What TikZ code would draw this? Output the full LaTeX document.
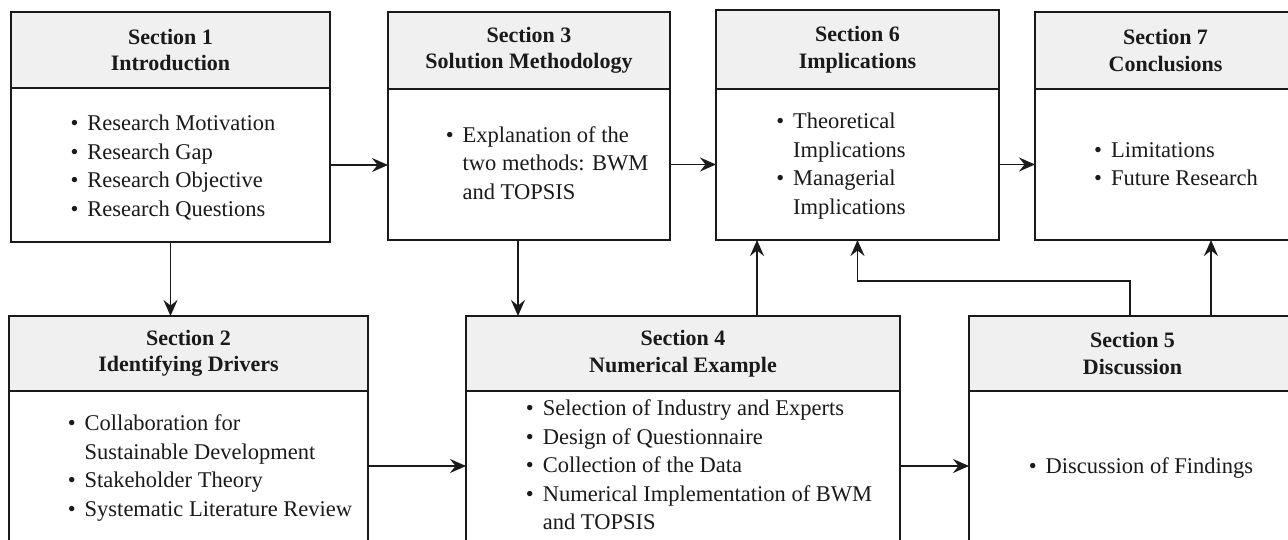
\documentclass[tikz,border=0pt]{standalone}
\usepackage{fontspec}
\setmainfont{Liberation Serif}
\usetikzlibrary{arrows.meta,calc}
\definecolor{hdrgray}{HTML}{F0F0F0}
\definecolor{ink}{HTML}{1A1A1A}
\tikzset{
  box/.style={draw=ink, line width=1.8pt, inner sep=0pt, outer sep=0pt, anchor=north west},
  hdr/.style={box, fill=hdrgray, font=\bfseries\fontsize{22}{26.5}\selectfont, align=center, text=ink},
  bdy/.style={box, fill=white},
  lst/.style={inner sep=0pt, font=\fontsize{22.5}{28.5}\selectfont, text=ink},
  arr/.style={draw=ink, line width=1.8pt, -{Stealth[length=16pt,width=14pt,inset=5.5pt]}},
}
\newcommand{\bitem}{\textbullet}
\begin{document}
\begin{tikzpicture}[x=1pt,y=-1pt]
\useasboundingbox (0,0) rectangle (1288,539);
\fill[white] (0,0) rectangle (1288,539);

% Section 1
\node[hdr, minimum width=319pt, minimum height=76pt] (s1h) at (11,12) {Section 1\\Introduction};
\node[bdy, minimum width=319pt, minimum height=154pt] (s1b) at (s1h.south west) {};
% Section 3
\node[hdr, minimum width=282pt, minimum height=77pt] (s3h) at (388,12) {Section 3\\Solution Methodology};
\node[bdy, minimum width=282pt, minimum height=151pt] (s3b) at (s3h.south west) {};
% Section 6
\node[hdr, minimum width=283pt, minimum height=79pt] (s6h) at (716,10) {Section 6\\Implications};
\node[bdy, minimum width=283pt, minimum height=151pt] (s6b) at (s6h.south west) {};
% Section 7
\node[hdr, minimum width=261pt, minimum height=77pt] (s7h) at (1035,12) {Section 7\\Conclusions};
\node[bdy, minimum width=261pt, minimum height=151pt] (s7b) at (s7h.south west) {};
% Section 2
\node[hdr, minimum width=359pt, minimum height=75pt] (s2h) at (9,316) {Section 2\\Identifying Drivers};
\node[bdy, minimum width=359pt, minimum height=150pt] (s2b) at (s2h.south west) {};
% Section 4
\node[hdr, minimum width=434pt, minimum height=75pt] (s4h) at (466,316) {Section 4\\Numerical Example};
\node[bdy, minimum width=434pt, minimum height=150pt] (s4b) at (s4h.south west) {};
% Section 5
\node[hdr, minimum width=327pt, minimum height=75pt] (s5h) at (969,316) {Section 5\\Discussion};
\node[bdy, minimum width=327pt, minimum height=150pt] (s5b) at (s5h.south west) {};

% Body texts
\node[lst] (t1) at (173,168) {\begin{tabular}{@{}l@{\hspace{9pt}}l@{}}
\bitem & Research Motivation\\
\bitem & Research Gap\\
\bitem & Research Objective\\
\bitem & Research Questions
\end{tabular}};
\node[lst] (t3) at (547,165) {\begin{tabular}{@{}l@{\hspace{9pt}}l@{}}
\bitem & Explanation of the\\
 & two methods: BWM\\
 & and TOPSIS
\end{tabular}};
\node[lst] (t6) at (841,166) {\begin{tabular}{@{}l@{\hspace{9pt}}l@{}}
\bitem & Theoretical\\
 & Implications\\
\bitem & Managerial\\
 & Implications
\end{tabular}};
\node[lst] (t7) at (1176,166) {\begin{tabular}{@{}l@{\hspace{9pt}}l@{}}
\bitem & Limitations\\
\bitem & Future Research
\end{tabular}};
\node[lst] (t2) at (210,468) {\begin{tabular}{@{}l@{\hspace{9pt}}l@{}}
\bitem & Collaboration for\\
 & Sustainable Development\\
\bitem & Stakeholder Theory\\
\bitem & Systematic Literature Review
\end{tabular}};
\node[lst] (t4) at (699,467) {\begin{tabular}{@{}l@{\hspace{9pt}}l@{}}
\bitem & Selection of Industry and Experts\\
\bitem & Design of Questionnaire\\
\bitem & Collection of the Data\\
\bitem & Numerical Implementation of BWM\\
 & and TOPSIS
\end{tabular}};
\node[lst] (t5) at (1141,468) {\begin{tabular}{@{}l@{\hspace{9pt}}l@{}}
\bitem & Discussion of Findings
\end{tabular}};

% Connectors
\coordinate (p34) at ([xshift=-11pt]s3b.south);
\coordinate (p46) at ([xshift=291pt]s4h.north west);
\coordinate (p56) at ([xshift=161pt]s5h.north west);
\coordinate (p57) at ([xshift=242pt]s5h.north west);

\draw[arr] (s1b.east) -- (s1b.east -| s3b.west);
\draw[arr] (s3b.east) -- (s3b.east -| s6b.west);
\draw[arr] (s6b.east) -- (s6b.east -| s7b.west);
\draw[arr] (s1b.south) -- (s1b.south |- s2h.north);
\draw[arr] (p34) -- (p34 |- s4h.north);
\draw[arr] (p46) -- (p46 |- s6b.south);
\draw[arr] (p56) -- ++(0,-35) -| (s6b.south);
\draw[arr] (p57) -- (p57 |- s7b.south);
\draw[arr] (s2b.east) -- (s2b.east -| s4b.west);
\draw[arr] (s4b.east) -- (s4b.east -| s5b.west);
\end{tikzpicture}
\end{document}
